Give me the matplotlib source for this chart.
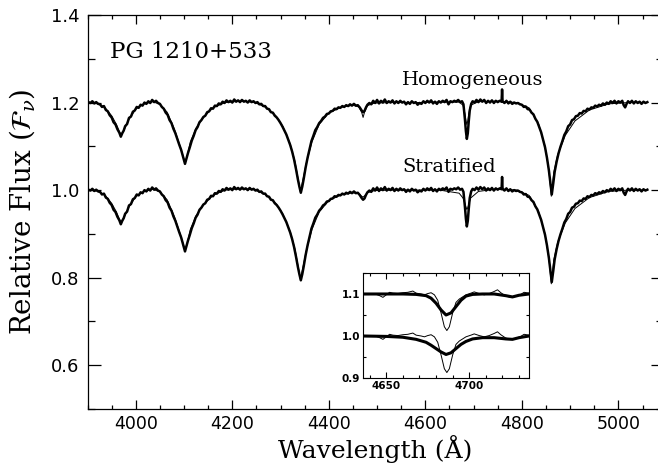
import numpy as np
import matplotlib.pyplot as plt
from matplotlib.ticker import MultipleLocator

plt.rcParams['mathtext.fontset'] = 'dejavuserif'

# observed spectrum (main panel), continuum normalised
obs_wave = [3902, 3906, 3910, 3914, 3918, 3922, 3926, 3930, 3934, 3938, 3942, 3946, 3950, 3954,
            3958, 3962, 3966, 3969, 3972, 3975, 3978, 3982, 3986, 3990, 3994, 3998, 4002, 4006,
            4010, 4014, 4018, 4022, 4026, 4030, 4034, 4038, 4042, 4046, 4050, 4054, 4058, 4062,
            4066, 4070, 4074, 4078, 4082, 4086, 4090, 4094, 4098, 4102, 4105, 4108, 4112, 4116,
            4120, 4124, 4128, 4132, 4136, 4140, 4144, 4148, 4152, 4156, 4160, 4164, 4168, 4172,
            4176, 4180, 4184, 4188, 4192, 4196, 4200, 4204, 4208, 4212, 4216, 4220, 4224, 4228,
            4232, 4236, 4240, 4244, 4248, 4252, 4256, 4260, 4264, 4268, 4272, 4276, 4280, 4284,
            4288, 4292, 4296, 4300, 4304, 4308, 4312, 4316, 4320, 4324, 4328, 4332, 4336, 4339,
            4342, 4345, 4348, 4352, 4356, 4360, 4364, 4368, 4372, 4376, 4380, 4384, 4388, 4392,
            4396, 4400, 4404, 4408, 4412, 4416, 4420, 4424, 4428, 4432, 4436, 4440, 4444, 4448,
            4452, 4456, 4460, 4464, 4468, 4471, 4474, 4477, 4480, 4484, 4488, 4492, 4496, 4500,
            4504, 4508, 4512, 4516, 4520, 4524, 4528, 4532, 4536, 4540, 4544, 4548, 4552, 4556,
            4560, 4564, 4568, 4572, 4576, 4580, 4584, 4588, 4592, 4596, 4600, 4604, 4608, 4612,
            4616, 4620, 4624, 4628, 4632, 4636, 4640, 4644, 4648, 4652, 4656, 4660, 4664, 4668,
            4672, 4676, 4679, 4682, 4684, 4686, 4688, 4690, 4692, 4695, 4698, 4702, 4706, 4710,
            4714, 4718, 4722, 4726, 4730, 4734, 4738, 4742, 4746, 4750, 4754, 4758, 4759, 4760,
            4764, 4768, 4772, 4776, 4780, 4784, 4788, 4792, 4796, 4800, 4804, 4808, 4812, 4816,
            4820, 4824, 4828, 4832, 4836, 4840, 4844, 4848, 4852, 4856, 4859, 4862, 4865, 4868,
            4872, 4876, 4880, 4884, 4888, 4892, 4896, 4900, 4904, 4908, 4912, 4916, 4920, 4924,
            4928, 4932, 4936, 4940, 4944, 4948, 4952, 4956, 4960, 4964, 4968, 4972, 4976, 4980,
            4984, 4988, 4992, 4996, 5000, 5004, 5008, 5011, 5014, 5017, 5020, 5024, 5028, 5032,
            5036, 5040, 5044, 5048, 5052, 5056, 5060]
obs_flux = [1.001, 0.999, 1.003, 0.998, 1.001, 0.997, 0.996, 0.990, 0.992, 0.983, 0.980, 0.971, 0.966, 0.955,
            0.950, 0.939, 0.931, 0.922, 0.930, 0.936, 0.946, 0.951, 0.965, 0.968, 0.979, 0.982, 0.990, 0.988,
            0.995, 0.993, 1.000, 0.997, 1.003, 0.999, 1.006, 1.001, 1.004, 0.999, 0.997, 0.990, 0.986, 0.977,
            0.972, 0.960, 0.953, 0.940, 0.930, 0.917, 0.904, 0.892, 0.876, 0.860, 0.872, 0.884, 0.898, 0.913,
            0.924, 0.937, 0.944, 0.955, 0.960, 0.967, 0.970, 0.978, 0.980, 0.987, 0.986, 0.993, 0.992, 0.998,
            0.996, 1.002, 0.999, 1.005, 1.001, 1.004, 1.000, 1.007, 1.002, 1.005, 1.001, 1.006, 1.002, 1.004,
            1.000, 1.005, 1.001, 1.003, 0.999, 1.001, 0.996, 0.997, 0.992, 0.992, 0.986, 0.985, 0.978, 0.977,
            0.970, 0.966, 0.960, 0.953, 0.945, 0.936, 0.927, 0.915, 0.903, 0.888, 0.870, 0.848, 0.824, 0.808,
            0.794, 0.808, 0.826, 0.852, 0.874, 0.893, 0.912, 0.924, 0.937, 0.944, 0.953, 0.958, 0.965, 0.968,
            0.974, 0.975, 0.980, 0.981, 0.986, 0.985, 0.989, 0.988, 0.992, 0.990, 0.994, 0.992, 0.996, 0.993,
            0.997, 0.993, 0.994, 0.989, 0.982, 0.978, 0.981, 0.989, 0.995, 0.999, 0.996, 1.004, 0.999, 1.006,
            0.998, 1.004, 1.000, 1.007, 0.999, 1.003, 1.000, 1.005, 0.998, 1.003, 0.999, 1.004, 1.000, 1.002,
            0.996, 1.001, 0.997, 1.003, 0.999, 1.001, 0.995, 0.999, 0.997, 1.003, 0.999, 1.004, 1.000, 1.005,
            0.998, 1.002, 0.997, 1.003, 1.000, 1.004, 1.001, 1.006, 0.996, 1.003, 1.001, 1.004, 1.002, 1.006,
            1.001, 1.003, 0.996, 0.962, 0.935, 0.917, 0.930, 0.958, 0.982, 0.997, 1.003, 1.000, 1.006, 1.001,
            1.007, 1.002, 1.006, 0.999, 1.004, 1.000, 1.005, 0.999, 1.004, 1.001, 1.004, 1.002, 1.030, 1.003,
            0.999, 1.004, 0.998, 1.002, 0.997, 1.000, 0.998, 0.999, 0.996, 0.995, 0.990, 0.991, 0.985, 0.984,
            0.977, 0.973, 0.963, 0.956, 0.944, 0.932, 0.915, 0.898, 0.874, 0.845, 0.818, 0.790, 0.815, 0.842,
            0.865, 0.884, 0.899, 0.912, 0.926, 0.934, 0.946, 0.950, 0.960, 0.962, 0.969, 0.970, 0.976, 0.975,
            0.981, 0.980, 0.986, 0.984, 0.989, 0.988, 0.993, 0.991, 0.995, 0.993, 0.998, 0.995, 1.000, 0.997,
            1.003, 0.999, 1.004, 0.998, 1.003, 1.000, 1.004, 0.994, 0.989, 0.997, 1.003, 0.999, 1.004, 0.998,
            1.003, 0.999, 1.002, 0.997, 1.002, 0.999, 1.001]

# model spectra (main panel)
mod_wave = [3900, 3920, 3935, 3950, 3960, 3966, 3970, 3975, 3985, 4000, 4015, 4035, 4050, 4065,
            4080, 4092, 4098, 4102, 4106, 4113, 4125, 4140, 4160, 4185, 4215, 4245, 4270, 4290,
            4305, 4320, 4330, 4337, 4341, 4346, 4353, 4365, 4380, 4400, 4425, 4450, 4462, 4468,
            4471, 4474, 4480, 4495, 4530, 4580, 4630, 4670, 4678, 4682, 4684, 4686, 4688, 4690,
            4694, 4710, 4750, 4790, 4815, 4835, 4848, 4856, 4861, 4866, 4874, 4890, 4910, 4940,
            4980, 5020, 5060]
homog_flux = [1.000, 0.998, 0.990, 0.970, 0.950, 0.934, 0.926, 0.936, 0.960, 0.985, 0.996, 1.002, 0.996, 0.978,
              0.940, 0.900, 0.878, 0.862, 0.876, 0.910, 0.942, 0.966, 0.988, 1.000, 1.003, 1.001, 0.989, 0.970,
              0.945, 0.905, 0.865, 0.822, 0.796, 0.822, 0.860, 0.910, 0.950, 0.976, 0.989, 0.994, 0.990, 0.978,
              0.966, 0.978, 0.993, 0.999, 1.000, 1.000, 1.001, 1.001, 0.994, 0.975, 0.960, 0.950, 0.958, 0.975,
              0.994, 1.002, 1.003, 1.000, 0.988, 0.950, 0.900, 0.845, 0.786, 0.840, 0.880, 0.925, 0.958, 0.983,
              0.997, 1.000, 1.000]
strat_flux = [1.000, 0.998, 0.990, 0.970, 0.950, 0.934, 0.926, 0.936, 0.960, 0.985, 0.996, 1.002, 0.996, 0.978,
              0.940, 0.900, 0.878, 0.862, 0.876, 0.910, 0.942, 0.966, 0.988, 1.000, 1.003, 1.001, 0.989, 0.970,
              0.945, 0.905, 0.865, 0.822, 0.796, 0.822, 0.860, 0.910, 0.950, 0.976, 0.989, 0.994, 0.992, 0.986,
              0.984, 0.987, 0.994, 0.999, 1.000, 1.000, 1.000, 0.993, 0.982, 0.970, 0.962, 0.956, 0.960, 0.968,
              0.982, 0.997, 1.003, 1.000, 0.988, 0.950, 0.900, 0.845, 0.786, 0.840, 0.880, 0.925, 0.958, 0.983,
              0.997, 1.000, 1.000]

# He II 4686 close-up (inset)
ins_obs_wave = [4636, 4640, 4644, 4646, 4648, 4650, 4652, 4654, 4657, 4660, 4663, 4666, 4668, 4671,
                4673, 4675, 4677, 4679, 4681, 4683, 4685, 4686.5, 4688, 4690, 4692, 4694, 4696, 4698,
                4701, 4703, 4706, 4709, 4712, 4715, 4717, 4719, 4722, 4725, 4728, 4731, 4733, 4736]
ins_obs_flux = [1.000, 1.001, 0.999, 0.996, 0.992, 0.998, 1.004, 1.002, 1.001, 1.003, 1.004, 1.007, 1.002, 1.000,
                0.998, 1.001, 1.003, 0.998, 0.985, 0.955, 0.922, 0.913, 0.922, 0.955, 0.980, 0.988, 0.993, 0.998,
                1.002, 1.005, 1.001, 0.998, 1.001, 1.006, 1.010, 1.003, 0.995, 0.992, 0.994, 0.999, 1.004, 1.002]
ins_mod_wave = [4636, 4650, 4660, 4668, 4674, 4677, 4680, 4683, 4686, 4689, 4692, 4695, 4698, 4702,
                4708, 4715, 4722, 4726, 4730, 4736]
ins_homog = [1.000, 1.000, 1.000, 0.999, 0.996, 0.990, 0.978, 0.962, 0.950, 0.955, 0.970, 0.985, 0.995, 0.999,
             1.000, 1.000, 0.996, 0.993, 0.997, 1.000]
ins_strat = [1.000, 0.999, 0.997, 0.992, 0.985, 0.978, 0.970, 0.962, 0.956, 0.960, 0.970, 0.980, 0.987, 0.993,
             0.996, 0.996, 0.993, 0.992, 0.996, 1.000]

offset_main = 0.2
offset_inset = 0.1

fig = plt.figure(figsize=(6.58, 4.63), dpi=100)
ax = fig.add_axes([0.133, 0.1166, 0.875, 0.851])

obs = np.array(obs_flux)
ax.plot(obs_wave, obs + offset_main, color='black', lw=1.8, zorder=2)
ax.plot(obs_wave, obs, color='black', lw=1.8, zorder=2)
ax.plot(mod_wave, np.array(homog_flux) + offset_main, color='black', lw=0.7, zorder=3)
ax.plot(mod_wave, strat_flux, color='black', lw=0.7, zorder=3)

ax.set_xlim(3900, 5093)
ax.set_ylim(0.5, 1.4)
ax.xaxis.set_major_locator(MultipleLocator(200))
ax.xaxis.set_minor_locator(MultipleLocator(50))
ax.yaxis.set_major_locator(MultipleLocator(0.2))
ax.yaxis.set_minor_locator(MultipleLocator(0.1))
ax.tick_params(axis='both', which='both', direction='in', top=True, right=True, width=0.9)
ax.tick_params(axis='x', which='major', length=6.5, labelsize=12.5, pad=4.5)
ax.tick_params(axis='x', which='minor', length=3.2)
ax.tick_params(axis='y', which='major', length=9, labelsize=13, pad=6)
ax.tick_params(axis='y', which='minor', length=5)
ax.set_yticks([0.6, 0.8, 1.0, 1.2, 1.4])
ax.set_yticklabels(['0.6', '0.8', '1.0', '1.2', '1.4'])
for s in ax.spines.values():
    s.set_linewidth(0.9)

ax.set_xlabel('Wavelength (Å)', family='DejaVu Serif', fontsize=18)
ax.xaxis.set_label_coords(0.5, -0.065)
ax.set_ylabel(r'Relative Flux $(\mathcal{F}_\nu)$', family='DejaVu Serif', fontsize=20)
ax.yaxis.set_label_coords(-0.088, 0.5)

ax.text(3947, 1.302, 'PG 1210+533', family='DejaVu Serif', fontsize=16.5)
ax.text(4552, 1.239, 'Homogeneous', family='DejaVu Serif', fontsize=14)
ax.text(4552, 1.041, 'Stratified', family='DejaVu Serif', fontsize=14)

# inset
axi = fig.add_axes([0.5517, 0.1836, 0.2523, 0.2268])
iobs = np.array(ins_obs_flux)
axi.plot(ins_obs_wave, iobs + offset_inset, color='black', lw=0.7)
axi.plot(ins_obs_wave, iobs, color='black', lw=0.7)
axi.plot(ins_mod_wave, np.array(ins_homog) + offset_inset, color='black', lw=2.2)
axi.plot(ins_mod_wave, ins_strat, color='black', lw=2.2)
axi.set_xlim(4636, 4736)
axi.set_ylim(0.9, 1.15)
axi.xaxis.set_major_locator(MultipleLocator(50))
axi.xaxis.set_minor_locator(MultipleLocator(10))
axi.set_yticks([0.9, 1.0, 1.1])
axi.set_yticklabels(['0.9', '1.0', '1.1'])
axi.yaxis.set_minor_locator(MultipleLocator(0.05))
axi.tick_params(axis='both', which='both', direction='in', top=True, right=True,
                labelsize=7.5, width=0.8, pad=2)
axi.tick_params(which='major', length=4)
axi.tick_params(which='minor', length=2.5)
for lab in axi.get_xticklabels() + axi.get_yticklabels():
    lab.set_fontweight('bold')
for s in axi.spines.values():
    s.set_linewidth(0.8)

fig.savefig('out.png', dpi=100)
